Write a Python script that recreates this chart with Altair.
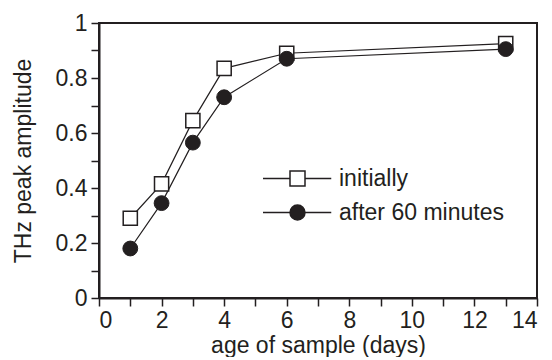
import altair as alt
import pandas as pd

days = [1, 2, 3, 4, 6, 13]
initially = [0.29, 0.415, 0.645, 0.835, 0.89, 0.925]
after60 = [0.18, 0.345, 0.565, 0.73, 0.87, 0.905]
series_names = ["initially", "after 60 minutes"]
x_ticks = list(range(0, 15))
y_ticks = [round(i * 0.1, 1) for i in range(11)]

df = pd.DataFrame({
    "day": days + days,
    "amp": initially + after60,
    "series": [series_names[0]] * len(days) + [series_names[1]] * len(days),
})

FONT = "Liberation Sans"
INK = "#231f20"

sq_path = "M-4.6,0H-1M1,0H4.5M-1,-1H1V1H-1Z"
ci_path = "M-4.6,0H-1M1,0H4.5M1,0A1,1,0,1,1,-1,0A1,1,0,1,1,1,0Z"

x = alt.X("day:Q", scale=alt.Scale(domain=[0, 14], nice=False),
          axis=alt.Axis(values=x_ticks, title="age of sample (days)",
                        labelExpr="datum.value % 2 == 0 ? datum.label : ''",
                        grid=False, tickSize=8, labelPadding=3, titlePadding=2))
y = alt.Y("amp:Q", scale=alt.Scale(domain=[0, 1], nice=False),
          axis=alt.Axis(values=y_ticks, title="THz peak amplitude",
                        labelExpr="round(datum.value*10) % 2 == 0 ? format(datum.value, '~g') : ''",
                        grid=False, tickSize=8, labelPadding=4, titlePadding=20))

base = alt.Chart(df)

lines = base.mark_line(color=INK, strokeWidth=1.2).encode(x=x, y=y, detail="series:N")

squares = base.transform_filter(alt.datum.series == series_names[0]).mark_point(
    shape="square", size=200, filled=True, fill="white", stroke=INK, strokeWidth=1.5, opacity=1
).encode(x=x, y=y)

circles = base.transform_filter(alt.datum.series == series_names[1]).mark_point(
    shape="circle", size=220, filled=True, fill=INK, stroke=INK, strokeWidth=1, opacity=1
).encode(x=x, y=y)

legend_layer = base.mark_point(size=225, opacity=0, strokeWidth=1.5).encode(
    x=x, y=y,
    shape=alt.Shape("series:N", scale=alt.Scale(domain=series_names, range=[sq_path, ci_path]),
                    legend=alt.Legend(
                        title=None, orient="none", legendX=187, legendY=144,
                        symbolSize=225, symbolStrokeColor=INK, symbolStrokeWidth=1.5,
                        labelFont=FONT, labelFontSize=23, labelColor=INK, labelOffset=30,
                        labelLimit=400, rowPadding=10, padding=0, symbolOpacity=1,
                    )),
    fill=alt.Fill("series:N", scale=alt.Scale(domain=series_names, range=["white", INK])),
    stroke=alt.Stroke("series:N", scale=alt.Scale(domain=series_names, range=[INK, INK])),
)

chart = (lines + squares + circles + legend_layer).properties(
    width=438, height=275,
    autosize=alt.AutoSizeParams(type="none"),
    padding={"left": 91, "top": 15, "right": 7, "bottom": 59},
).configure_view(stroke=INK, strokeWidth=2).configure_axis(
    domainColor=INK, domainWidth=2, tickColor=INK, tickWidth=1.5,
    labelFont=FONT, labelFontSize=23, labelColor=INK,
    titleFont=FONT, titleFontSize=23, titleColor=INK, titleFontWeight="normal",
)

chart.save("out.html", embed_options={"renderer": "svg", "actions": False})
